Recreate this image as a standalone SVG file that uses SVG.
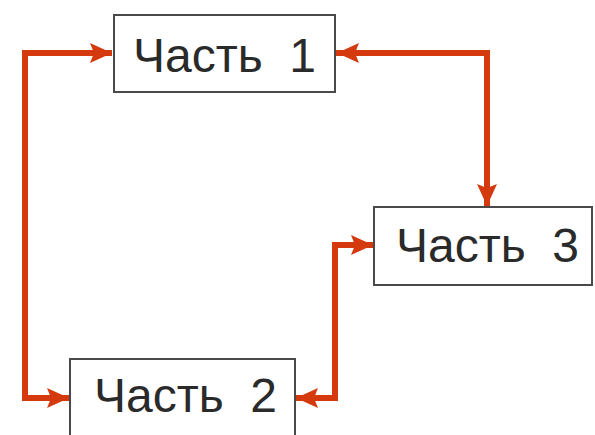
<svg xmlns="http://www.w3.org/2000/svg" width="595" height="435" viewBox="0 0 595 435">
<style>
.box{fill:#fff;stroke:#4a4a4a;stroke-width:2}
.lbl{font-family:"Liberation Sans",Arial,sans-serif;font-size:48px;fill:#2a2a2a}
.con{fill:none;stroke:#d43a0e;stroke-width:6;stroke-linejoin:miter}
</style>
<defs>
<marker id="ah" viewBox="0 0 22 20" refX="22" refY="10" markerWidth="22" markerHeight="20" markerUnits="userSpaceOnUse" orient="auto">
<path d="M0,0 L22,10 L0,20 L4,10 Z" fill="#d43a0e"/>
</marker>
</defs>
<rect width="595" height="435" fill="#fff"/>
<g id="connectors">
<path class="con" d="M25,398 L25,53 L112,53" marker-end="url(#ah)"/>
<path class="con" d="M25,53 L25,398 L69,398" marker-end="url(#ah)"/>
<path class="con" d="M487,53 L337,53" marker-end="url(#ah)"/>
<path class="con" d="M335,53 L487,53 L487,206" marker-end="url(#ah)"/>
<path class="con" d="M335,398 L335,245 L373,245" marker-end="url(#ah)"/>
<path class="con" d="M335,245 L335,398 L296,398" marker-end="url(#ah)"/>
</g>
<g id="node1">
<rect class="box" x="114" y="15" width="221" height="77"/>
<text class="lbl" x="133" y="72" xml:space="preserve">Часть  1</text>
</g>
<g id="node3">
<rect class="box" x="374" y="207" width="218" height="78"/>
<text class="lbl" x="396" y="262" xml:space="preserve">Часть  3</text>
</g>
<g id="node2">
<rect class="box" x="70" y="359" width="225" height="80"/>
<text class="lbl" x="94" y="412" xml:space="preserve">Часть  2</text>
</g>
</svg>
